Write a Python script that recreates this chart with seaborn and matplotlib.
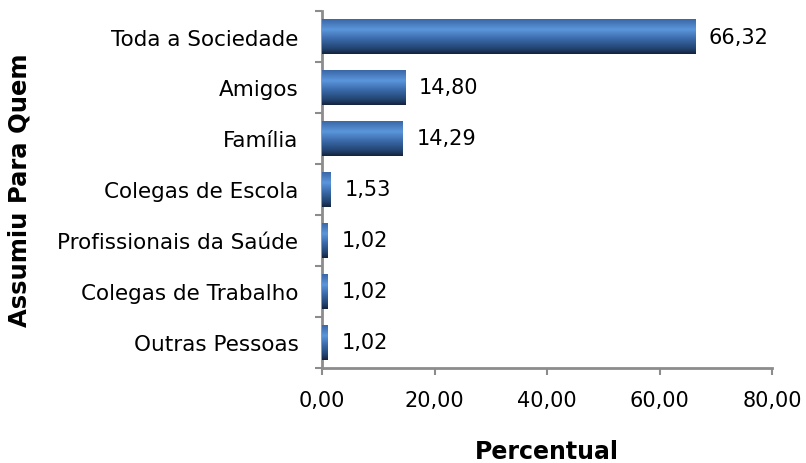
import numpy as np
import pandas as pd
import seaborn as sns
import matplotlib
matplotlib.use("Agg")
import matplotlib.pyplot as plt
from matplotlib.colors import LinearSegmentedColormap
import matplotlib.ticker as ticker

# data
categorias = ["Toda a Sociedade", "Amigos", "Família", "Colegas de Escola",
              "Profissionais da Saúde", "Colegas de Trabalho", "Outras Pessoas"]
percentual = [66.32, 14.80, 14.29, 1.53, 1.02, 1.02, 1.02]

df = pd.DataFrame({"Categoria": categorias, "Percentual": percentual})

sns.set_style("white")
plt.rcParams['font.family'] = ['DejaVu Sans']
plt.rcParams['text.color'] = 'black'
plt.rcParams['axes.labelcolor'] = 'black'
plt.rcParams['xtick.labelcolor'] = 'black'
plt.rcParams['ytick.labelcolor'] = 'black'

fig = plt.figure(figsize=(8.06, 4.64), dpi=100)
ax = fig.add_axes([322/806, 1-369/464, 450/806, 357/464])

g = sns.barplot(data=df, x="Percentual", y="Categoria", orient="h",
                width=0.67, color="#3a6fb5", ax=ax)

# gradient fill like the excel cylinder bars
cmap = LinearSegmentedColormap.from_list("bar", [
    (0.0, "#3a67a6"), (0.3, "#5b96dc"), (0.55, "#3c6cad"),
    (0.85, "#22436f"), (1.0, "#14233b")])
grad = np.linspace(0, 1, 256).reshape(-1, 1)
for p in ax.patches:
    x0, y0 = p.get_x(), p.get_y()
    w, h = p.get_width(), p.get_height()
    p.set_facecolor("none")
    p.set_edgecolor("none")
    im = ax.imshow(grad, cmap=cmap, aspect="auto",
                   extent=[x0, x0 + w, y0 + h, y0], zorder=3)
    im.set_clip_path(p)

ax.set_xlim(0, 80)
ax.set_ylim(6.5, -0.5)

# data labels
for i, v in enumerate(percentual):
    ax.annotate(f"{v:.2f}".replace(".", ","), xy=(v, i), xytext=(10, 0),
                textcoords="offset points", va="center", ha="left", size=15)

ax.xaxis.set_major_locator(ticker.MultipleLocator(20))
ax.xaxis.set_major_formatter(ticker.FuncFormatter(lambda v, p: f"{v:.2f}".replace(".", ",")))

# y ticks between categories
ax.set_yticks(np.arange(-0.5, 7, 1), minor=True)
ax.tick_params(axis="y", which="major", length=0, pad=17, labelsize=15.5)
ax.tick_params(axis="y", which="minor", length=5, width=1.5, color="#8c8c8c", direction="out", left=True)
ax.tick_params(axis="x", which="major", length=5, width=1.5, color="#8c8c8c", direction="out",
               bottom=True, pad=11, labelsize=15)

for s in ["top", "right"]:
    ax.spines[s].set_visible(False)
for s in ["left", "bottom"]:
    ax.spines[s].set_color("#8c8c8c")
    ax.spines[s].set_linewidth(2)

ax.set_xlabel("Percentual", fontsize=17, fontweight="bold", labelpad=21)
ax.set_ylabel("Assumiu Para Quem", fontsize=17.5, fontweight="bold")
ax.yaxis.set_label_coords(-290/450, 0.5)

plt.savefig("out.png", dpi=100)
